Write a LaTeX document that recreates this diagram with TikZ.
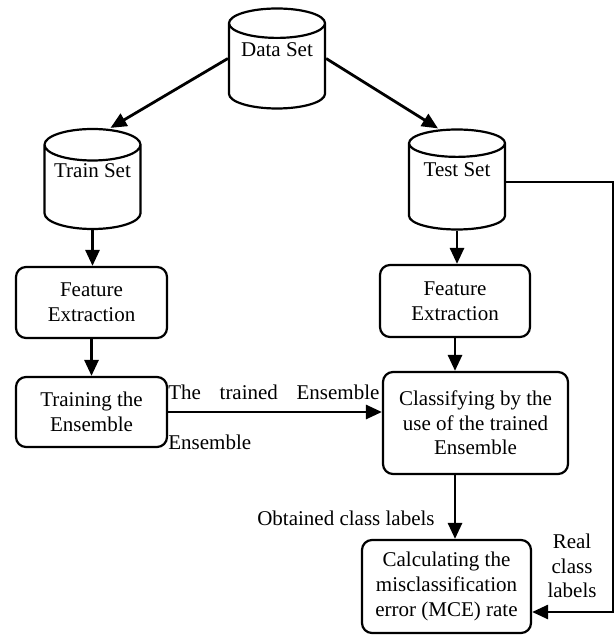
\documentclass[tikz,border=0pt]{standalone}
\usepackage{fontspec}
\setmainfont{Liberation Serif}
\usetikzlibrary{shapes.geometric,arrows.meta}

\newcommand{\dblabel}[1]{\raisebox{8.5pt}{#1}}

\begin{document}
\begin{tikzpicture}[x=0.5pt,y=-0.5pt,
  font=\fontsize{10.5}{12.3}\selectfont,
  box/.style = {draw,rounded corners=5pt,line width=1.1pt,align=center,
        inner sep=0pt},
  db/.style = {draw,cylinder,shape border rotate=90,aspect=0.41,
        line width=1.1pt,inner sep=0pt,minimum width=48pt,minimum height=50pt,
        text height=7pt,text depth=0.2pt,anchor=shape center},
  arr/.style = {line width=1.4pt,-{Triangle[length=8pt,width=7pt]}}]
 \useasboundingbox (0,0) rectangle (614,635);
 % data stores
 \node[db] (data)  at (277,58.5)  {\dblabel{Data Set}};
 \node[db] (train) at (92.5,179)  {\dblabel{Train Set}};
 \node[db] (test)  at (457,179.5) {\dblabel{Test Set}};
 % process boxes
 \node[box,minimum width=75.5pt,minimum height=35.5pt] (fe1) at (91.5,302.5)
   {Feature\\Extraction};
 \node[box,minimum width=75.5pt,minimum height=35pt] (ens) at (91.5,412)
   {Training the\\Ensemble};
 \node[box,minimum width=75pt,minimum height=36pt] (fe2) at (455,301)
   {Feature\\Extraction};
 \node[box,minimum width=92.5pt,minimum height=51pt] (cls) at (475.5,423)
   {Classifying by the\\use of the trained\\Ensemble};
 \node[box,minimum width=84.5pt,minimum height=46.5pt] (mce) at (446.5,586.5)
   {Calculating the\\misclassification\\error (MCE) rate};
 \coordinate (edge) at (613,182);
 % labels
 \node[anchor=west,inner sep=0pt,text width=105.5pt] (lt) at (168,392)
   {The\hfill trained\hfill Ensemble};
 \node[anchor=west,inner sep=0pt] (le) at (168,442) {Ensemble};
 \node[anchor=east,inner sep=0pt] (lo) at (435,518) {Obtained class labels};
 \node[align=center,inner sep=0pt] (lr) at (572,566) {Real\\class\\labels};
 % connectors
 \draw[arr] (data.shape center -| data.west) -- ([xshift=9pt]train.north);
 \draw[arr] (data.shape center -| data.east) -- ([xshift=-9.5pt]test.north);
 \draw[arr] (train.south) -- (train.south |- fe1.north);
 \draw[arr] (fe1) -- (ens);
 \draw[arr] (test.south) -- (test.south |- fe2.north);
 \draw[arr] (fe2.south) -- (fe2.south |- cls.north);
 \draw[arr] (ens.east) -- (ens.east -| cls.west);
 \draw[arr] (fe2.south |- cls.south) -- (fe2.south |- mce.north);
 \draw[arr] (test.east |- edge) -- (edge) |- ([yshift=-12.75pt]mce.east);
\end{tikzpicture}
\end{document}
